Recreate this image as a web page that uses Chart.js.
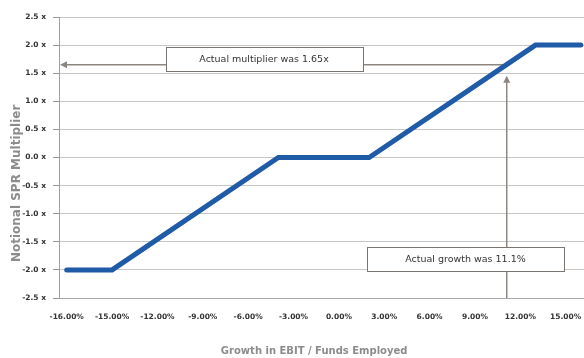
<!DOCTYPE html>
<html>
<head>
<meta charset="utf-8">
<script src="https://cdn.jsdelivr.net/npm/chart.js@4/dist/chart.umd.min.js"></script>
<style>
  html, body { margin: 0; padding: 0; background: #ffffff; }
  #wrap { width: 584px; height: 358px; position: relative; }
</style>
</head>
<body>
<div id="wrap"><canvas id="chart"></canvas></div>
<script>
// Notional SPR multiplier as a function of growth in EBIT / funds employed
const growthPct  = [-16, -15, -4, 2, 13, 16];   // x, % growth
const multiplier = [-2, -2, 0, 0, 2, 2];        // y, multiplier (x)

const xTickValues = [-16, -15, -12, -9, -6, -3, 0, 3, 6, 9, 12, 15];
const xTickLabels = ['-16.00%', '-15.00%', '-12.00%', '-9.00%', '-6.00%', '-3.00%',
                     '0.00%', '3.00%', '6.00%', '9.00%', '12.00%', '15.00%'];
const yTickValues = [-2.5, -2.0, -1.5, -1.0, -0.5, 0.0, 0.5, 1.0, 1.5, 2.0, 2.5];
const yTickLabels = ['-2.5 x', '-2.0 x', '-1.5 x', '-1.0 x', '-0.5 x', '0.0 x',
                     '0.5 x', '1.0 x', '1.5 x', '2.0 x', '2.5 x'];

const xTitle = 'Growth in EBIT / Funds Employed';
const yTitle = 'Notional SPR Multiplier';

const actualGrowth = 11.1;
const actualMultiplier = 1.65;
const growthNote = 'Actual growth was 11.1%';
const multiplierNote = 'Actual multiplier was 1.65x';

// The growth axis gives the "-16% and below" bucket the same width as a 3% step.
function warp(v) { return v < -15 ? -15 + (v + 15) * 3 : v; }
function unwarp(u) { return u < -15 ? -15 + (u + 15) / 3 : u; }

class GrowthScale extends Chart.LinearScale {
  getPixelForValue(v) {
    if (v === null || v === undefined || isNaN(v)) return NaN;
    const a = warp(this.min), b = warp(this.max);
    return this.getPixelForDecimal((warp(v) - a) / (b - a));
  }
  getValueForPixel(p) {
    const a = warp(this.min), b = warp(this.max);
    return unwarp(a + this.getDecimalForPixel(p) * (b - a));
  }
}
GrowthScale.id = 'growth';
GrowthScale.defaults = Chart.LinearScale.defaults;
Chart.register(GrowthScale);

const ARROW = '#8b8680';
const TITLE = '#8c8c8c';

function arrowHead(ctx, x, y, dir) {
  const len = 7, half = 3.5;
  ctx.beginPath();
  if (dir === 'left') {
    ctx.moveTo(x, y); ctx.lineTo(x + len, y - half); ctx.lineTo(x + len, y + half);
  } else {
    ctx.moveTo(x, y); ctx.lineTo(x - half, y + len); ctx.lineTo(x + half, y + len);
  }
  ctx.closePath();
  ctx.fill();
}

function noteBox(ctx, cx, cy, text) {
  const w = 197, h = 24;
  const x = Math.round(cx - w / 2) + 0.5, y = Math.round(cy - h / 2) + 0.5;
  ctx.fillStyle = '#ffffff';
  ctx.fillRect(x, y, w, h);
  ctx.strokeStyle = '#7a7570';
  ctx.lineWidth = 1;
  ctx.strokeRect(x, y, w, h);
  ctx.fillStyle = '#333333';
  ctx.font = '9.5px "DejaVu Sans"';
  ctx.textAlign = 'center';
  ctx.textBaseline = 'middle';
  ctx.fillText(text, cx, cy + 0.5);
}

const annotations = {
  id: 'annotations',
  beforeDatasetsDraw(chart) {
    const {ctx, chartArea, scales: {x, y}} = chart;
    const gx = x.getPixelForValue(actualGrowth);
    const my = y.getPixelForValue(actualMultiplier);
    ctx.save();
    ctx.strokeStyle = ARROW;
    ctx.fillStyle = ARROW;
    ctx.lineWidth = 1.5;
    // horizontal arrow to the multiplier axis
    ctx.beginPath();
    ctx.moveTo(gx, my);
    ctx.lineTo(chartArea.left + 6, my);
    ctx.stroke();
    arrowHead(ctx, chartArea.left + 1, my, 'left');
    // vertical arrow up from the growth axis
    const tipY = my + 11;
    ctx.beginPath();
    ctx.moveTo(gx, chartArea.bottom);
    ctx.lineTo(gx, tipY + 6);
    ctx.stroke();
    arrowHead(ctx, gx, tipY, 'up');
    // notes
    noteBox(ctx, x.getPixelForValue(-4.95), y.getPixelForValue(1.75), multiplierNote);
    noteBox(ctx, x.getPixelForValue(8.37), y.getPixelForValue(-1.8), growthNote);
    ctx.restore();
  },
  afterDraw(chart) {
    const {ctx, chartArea} = chart;
    ctx.save();
    ctx.fillStyle = TITLE;
    ctx.textAlign = 'center';
    ctx.textBaseline = 'middle';
    // axis titles
    ctx.font = 'bold 10px "DejaVu Sans"';
    ctx.fillText(xTitle, chartArea.left + chartArea.width * 0.486, chart.height - 6.5);
    ctx.translate(17, chartArea.top + chartArea.height * 0.592);
    ctx.rotate(-Math.PI / 2);
    ctx.font = 'bold 12px "DejaVu Sans"';
    ctx.fillText(yTitle, 0, 0);
    ctx.restore();
  }
};

new Chart(document.getElementById('chart'), {
  type: 'line',
  data: {
    datasets: [{
      data: growthPct.map((g, i) => ({x: g, y: multiplier[i]})),
      borderColor: '#1f5ba6',
      borderWidth: 5,
      borderCapStyle: 'round',
      borderJoinStyle: 'miter',
      pointRadius: 0,
      pointHoverRadius: 0,
      tension: 0,
      fill: false
    }]
  },
  options: {
    responsive: true,
    maintainAspectRatio: false,
    animation: false,
    events: [],
    layout: { padding: { top: 17, right: 0, bottom: 0, left: 0 } },
    plugins: { legend: { display: false }, tooltip: { enabled: false } },
    scales: {
      x: {
        type: 'growth',
        min: -16.17,
        max: 16.21,
        bounds: 'data',
        afterBuildTicks(s) { s.ticks = xTickValues.map(v => ({value: v})); },
        afterFit(s) { s.height = 60; s.paddingLeft = 0; s.paddingRight = 0; },
        grid: { display: false, drawTicks: false },
        border: { display: true, color: '#a8a8a8', width: 1 },
        ticks: {
          autoSkip: false,
          maxRotation: 0,
          padding: 15,
          color: '#333333',
          font: { family: 'DejaVu Sans', size: 7.5, weight: 'bold' },
          callback(v) { return xTickLabels[xTickValues.indexOf(v)]; }
        }
      },
      y: {
        min: -2.5,
        max: 2.5,
        afterBuildTicks(s) { s.ticks = yTickValues.map(v => ({value: v})); },
        afterFit(s) { s.width = 59; s.paddingTop = 0; s.paddingBottom = 0; },
        grid: { color: '#c6c6c6', lineWidth: 1, tickLength: 6, tickColor: '#999999' },
        border: { display: true, color: '#a0a0a0', width: 1 },
        ticks: {
          padding: 7,
          color: '#333333',
          font: { family: 'DejaVu Sans', size: 7.5, weight: 'bold' },
          callback(v) { return yTickLabels[yTickValues.indexOf(v)]; }
        }
      }
    }
  },
  plugins: [annotations]
});
</script>
</body>
</html>
